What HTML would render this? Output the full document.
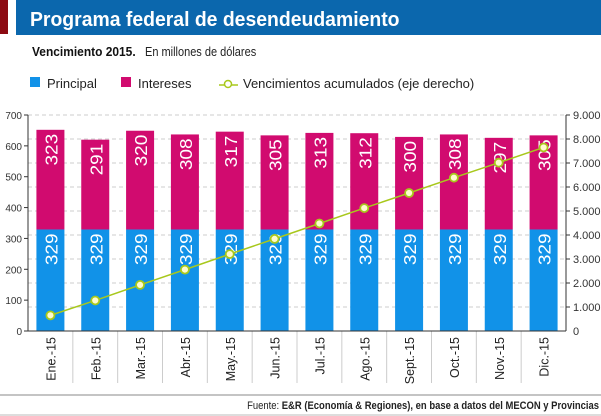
<!DOCTYPE html>
<html><head><meta charset="utf-8"><style>
html,body{margin:0;padding:0;background:#fff;width:601px;height:416px;overflow:hidden}
text{font-family:"Liberation Sans",sans-serif}
</style></head><body>
<svg width="601" height="416" viewBox="0 0 601 416" xmlns="http://www.w3.org/2000/svg">
<rect x="0" y="0" width="601" height="416" fill="#fff"/>
<rect x="0" y="0" width="8" height="34" fill="#8c0a12"/>
<rect x="16" y="0" width="585" height="35" fill="#0b67ad"/>
<text x="30" y="26" fill="#fff" font-size="20" font-weight="bold" transform="scale(0.97,1)" transform-origin="30 26">Programa federal de desendeudamiento</text>
<text x="32" y="56" fill="#111" font-size="13" font-weight="bold" transform="scale(0.92,1)" transform-origin="32 56">Vencimiento 2015.</text>
<text x="145" y="56" fill="#222" font-size="12.5" transform="scale(0.88,1)" transform-origin="145 56">En millones de dólares</text>
<rect x="30" y="77" width="10" height="10" fill="#1192e8"/>
<text x="47" y="88" font-size="13" fill="#222">Principal</text>
<rect x="121" y="77" width="10" height="10" fill="#d10b6f"/>
<text x="138" y="88" font-size="13" fill="#222">Intereses</text>
<line x1="219" y1="85" x2="238" y2="85" stroke="#a8c81c" stroke-width="1.5"/>
<circle cx="228" cy="84" r="3.5" fill="#fff" stroke="#a8c81c" stroke-width="1.5"/>
<text x="243" y="88" font-size="13" fill="#222">Vencimientos acumulados (eje derecho)</text>
<g id="chart"></g>
<line x1="0" y1="395" x2="601" y2="395" stroke="#888" stroke-width="1"/>
<line x1="0" y1="415" x2="601" y2="415" stroke="#bbb" stroke-width="1"/>
<text x="599" y="409" font-size="11" fill="#222" text-anchor="end" transform="scale(0.86,1)" transform-origin="599 409">Fuente: <tspan font-weight="bold">E&amp;R (Economía &amp; Regiones), en base a datos del MECON y Provincias</tspan></text>
</svg>
<script>
var g=document.getElementById('chart'),h='';
var I=[323,291,320,308,317,305,313,312,300,308,297,305];
var M=['Ene.-15','Feb.-15','Mar.-15','Abr.-15','May.-15','Jun.-15','Jul.-15','Ago.-15','Sept.-15','Oct.-15','Nov.-15','Dic.-15'];
var L=28,R=566,B=331,T=115,k=216/700,kr=216/9000,cw=(R-L)/12;
for(var j=1;j<=9;j++){var y=B-j*1000*kr;h+='<line x1="'+L+'" x2="'+R+'" y1="'+y+'" y2="'+y+'" stroke="#ccc" stroke-dasharray="4,3"/>';
h+='<line x1="'+R+'" x2="'+(R+4)+'" y1="'+y+'" y2="'+y+'" stroke="#333"/>';
h+='<text x="'+(R+7)+'" y="'+(y+4)+'" font-size="11" fill="#333">'+(j+'.000')+'</text>';}
h+='<text x="'+(R+7)+'" y="'+(B+4)+'" font-size="11" fill="#333">0</text>';
for(var j=0;j<=7;j++){var y=B-j*100*k;h+='<line x1="'+(L-4)+'" x2="'+L+'" y1="'+y+'" y2="'+y+'" stroke="#333"/>';
h+='<text x="'+(L-6)+'" y="'+(y+4)+'" font-size="10" fill="#333" text-anchor="end">'+(j*100)+'</text>';}
var cum=0,pts=[];
for(var i=0;i<12;i++){var cx=L+cw*(i+0.5),x=cx-14,yp=B-329*k,yi=yp-I[i]*k;
h+='<rect x="'+x+'" y="'+yp+'" width="28" height="'+(B-yp)+'" fill="#1192e8"/>';
h+='<rect x="'+x+'" y="'+yi+'" width="28" height="'+(yp-yi)+'" fill="#d10b6f"/>';
h+='<text transform="translate('+(cx+7)+','+(yp+4)+') rotate(-90) scale(1,0.92)" text-anchor="end" font-size="19" fill="#fff">329</text>';
h+='<text transform="translate('+(cx+7)+','+(yi+4)+') rotate(-90) scale(1,0.92)" text-anchor="end" font-size="19" fill="#fff">'+I[i]+'</text>';
h+='<text transform="translate('+(cx+5)+',337) rotate(-90)" text-anchor="end" font-size="12.5" fill="#222">'+M[i]+'</text>';
if(i>0)h+='<line x1="'+(L+cw*i)+'" x2="'+(L+cw*i)+'" y1="'+B+'" y2="383" stroke="#ccc"/>';
cum+=329+I[i];pts.push([cx,B-cum*kr]);}
h+='<line x1="'+L+'" x2="'+L+'" y1="'+T+'" y2="'+B+'" stroke="#333"/><line x1="'+R+'" x2="'+R+'" y1="'+T+'" y2="'+B+'" stroke="#333"/><line x1="'+L+'" x2="'+R+'" y1="'+B+'" y2="'+B+'" stroke="#333"/>';
h+='<polyline fill="none" stroke="#a8c81c" stroke-width="1.5" points="'+pts.map(function(p){return p.join(',')}).join(' ')+'"/>';
pts.forEach(function(p){h+='<circle cx="'+p[0]+'" cy="'+p[1]+'" r="4" fill="#fffbd0" stroke="#a8c81c" stroke-width="1.8"/>';});
g.innerHTML=h;
</script>
</body></html>
